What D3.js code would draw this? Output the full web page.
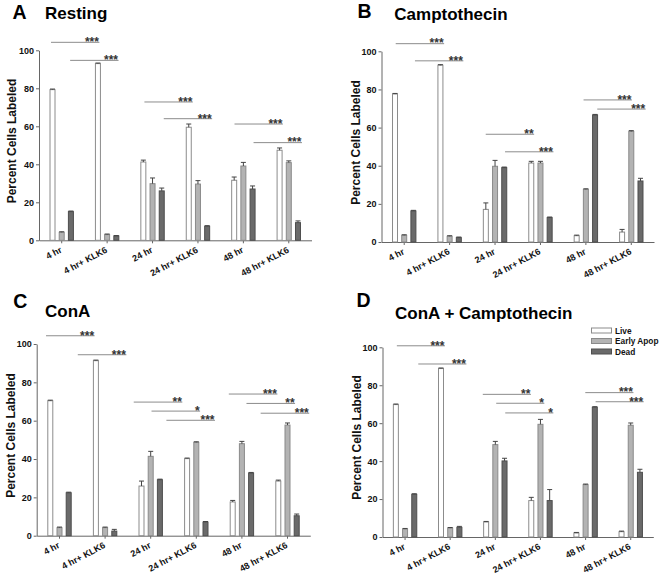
<!DOCTYPE html>
<html>
<head>
<meta charset="utf-8">
<script src="https://cdn.jsdelivr.net/npm/d3@7/dist/d3.min.js"></script>
<style>
  html, body { margin: 0; padding: 0; background: #fff; }
  svg { display: block; }
  text { font-family: "Liberation Sans", Arial, sans-serif; }
</style>
</head>
<body>
<svg id="chart" width="661" height="578"></svg>
<script>
// ---------- data ----------
const categories = ["4 hr", "4 hr+ KLK6", "24 hr", "24 hr+ KLK6", "48 hr", "48 hr+ KLK6"];
const seriesNames = ["Live", "Early Apop", "Dead"];
const yTicks = [0, 20, 40, 60, 80, 100];

const restingLive  = [79.3, 93.0, 41.2, 59.5, 31.6, 47.4];
const restingEarly = [4.2, 3.0, 29.8, 29.6, 39.1, 40.9];
const restingDead  = [15.1, 2.3, 26.0, 7.4, 27.0, 9.3];
const restingErrLive  = [0.3, 0.3, 1.0, 1.7, 1.7, 1.2];
const restingErrEarly = [0.3, 0.3, 3.0, 1.8, 1.9, 0.9];
const restingErrDead  = [0.3, 0.2, 1.5, 0.3, 1.6, 0.9];

const camptoLive  = [77.6, 92.7, 17.1, 41.4, 3.3, 5.2];
const camptoEarly = [3.5, 3.0, 39.7, 41.4, 27.6, 58.0];
const camptoDead  = [16.3, 2.3, 39.0, 12.8, 66.6, 32.0];
const camptoErrLive  = [0.3, 0.3, 3.4, 0.9, 0.3, 1.4];
const camptoErrEarly = [0.3, 0.3, 3.1, 0.9, 0.3, 0.4];
const camptoErrDead  = [0.3, 0.3, 0.3, 0.3, 0.3, 1.4];

const conaLive  = [70.4, 91.3, 25.9, 40.2, 17.6, 28.5];
const conaEarly = [4.2, 4.2, 41.4, 48.7, 48.0, 57.7];
const conaDead  = [22.4, 2.4, 29.2, 7.1, 32.7, 10.4];
const conaErrLive  = [0.3, 0.3, 2.6, 0.3, 0.8, 0.5];
const conaErrEarly = [0.3, 0.3, 2.6, 0.3, 1.2, 1.1];
const conaErrDead  = [0.3, 0.9, 0.3, 0.3, 0.3, 0.9];

const conaCamptoLive  = [69.8, 88.8, 7.9, 19.2, 2.1, 2.8];
const conaCamptoEarly = [4.2, 4.7, 48.7, 59.4, 27.6, 58.9];
const conaCamptoDead  = [22.5, 5.1, 40.1, 19.2, 68.4, 34.1];
const conaCamptoErrLive  = [0.3, 0.3, 0.3, 1.7, 0.3, 0.3];
const conaCamptoErrEarly = [0.3, 0.3, 1.7, 2.6, 0.3, 1.2];
const conaCamptoErrDead  = [0.3, 0.5, 1.4, 5.8, 0.3, 1.6];

// significance brackets: [fromGroup, toGroup, series position, level (%), label]
const restingSig = [[0,1,0,104.2,"***"],[0,1,2.08,94.7,"***"],[2,3,0.28,72.8,"***"],[2,3,2.38,64,"***"],[4,5,0.2,61.2,"***"],[4,5,2.27,51.4,"***"]];
const camptoSig = [[0,1,0.24,104,"***"],[0,1,2.33,95,"***"],[2,3,0.15,56.5,"**"],[2,3,2.25,47.3,"***"],[4,5,0.91,74.5,"***"],[4,5,2.4,69.7,"***"]];
const conaSig = [[0,1,-0.3,104.3,"***"],[0,1,3.15,94.4,"***"],[2,3,-0.68,69.7,"**"],[2,3,1.25,65,"*"],[2,3,2.87,60.2,"***"],[4,5,-0.26,73.9,"***"],[4,5,1.66,69,"**"],[4,5,3.2,63.9,"***"]];
const conaCamptoSig = [[0,1,0.27,100.8,"***"],[0,1,2.6,91.2,"***"],[2,3,-0.2,75.2,"**"],[2,3,1.26,70.5,"*"],[2,3,2.24,65.4,"*"],[4,5,1.13,76.1,"***"],[4,5,2.25,71.3,"***"]];

const panelLetters = ["A", "B", "C", "D"];
const panelTitles = ["Resting", "Camptothecin", "ConA", "ConA + Camptothecin"];

// ---------- styles / layout ----------
const fills = ["#ffffff", "#b3b3b3", "#6a6a6a"];
const strokes = ["#8c8c8c", "#8a8a8a", "#4e4e4e"];
const FONT = "'Liberation Sans', Arial, sans-serif";

const panels = [
  { letter: panelLetters[0], title: panelTitles[0], values: [restingLive, restingEarly, restingDead], errs: [restingErrLive, restingErrEarly, restingErrDead], sig: restingSig,
    x0: 39, x1: 311.5, y0: 240.3, y100: 50.3, letterPos: [12.5, 19.3], titlePos: [45, 19.3], ylab: [16, 141] },
  { letter: panelLetters[1], title: panelTitles[1], values: [camptoLive, camptoEarly, camptoDead], errs: [camptoErrLive, camptoErrEarly, camptoErrDead], sig: camptoSig,
    x0: 381.5, x1: 654, y0: 242, y100: 51.3, letterPos: [357.5, 17.8], titlePos: [394.3, 20], ylab: [360, 142.5] },
  { letter: panelLetters[2], title: panelTitles[2], values: [conaLive, conaEarly, conaDead], errs: [conaErrLive, conaErrEarly, conaErrDead], sig: conaSig,
    x0: 36.7, x1: 310.3, y0: 535.7, y100: 344, letterPos: [13.2, 308], titlePos: [45, 317.3], ylab: [15, 435.5] },
  { letter: panelLetters[3], title: panelTitles[3], values: [conaCamptoLive, conaCamptoEarly, conaCamptoDead], errs: [conaCamptoErrLive, conaCamptoErrEarly, conaCamptoErrDead], sig: conaCamptoSig,
    x0: 382.5, x1: 653.3, y0: 537, y100: 347.3, letterPos: [356.5, 307.3], titlePos: [395, 318.7], ylab: [360.5, 437.5], legend: true }
];

const svg = d3.select("#chart");

panels.forEach(p => {
  const g = svg.append("g");
  const x = d3.scaleBand().domain(categories).range([p.x0, p.x1]).paddingInner(0).paddingOuter(0);
  const xs = d3.scaleBand().domain([0, 1, 2]).range([-12.2, 12.2]).paddingInner(0.348).paddingOuter(0);
  const y = d3.scaleLinear().domain([0, 100]).range([p.y0, p.y100]);
  const gc = c => x(c) + x.bandwidth() / 2;
  const subStep = xs.step();
  const posX = (gi, s) => gc(categories[gi]) + xs(0) + xs.bandwidth() / 2 + s * subStep;

  // y axis
  const yAxis = d3.axisLeft(y).tickValues(yTicks).tickSize(3).tickPadding(2).tickSizeOuter(0);
  const ya = g.append("g").attr("transform", `translate(${p.x0},0)`).call(yAxis);
  ya.select(".domain").attr("stroke", "#666");
  ya.selectAll(".tick line").attr("stroke", "#666");
  ya.selectAll(".tick text").attr("font-family", FONT).attr("font-size", 9).attr("font-weight", "bold").attr("fill", "#111");

  // x axis
  const xAxis = d3.axisBottom(x).tickSize(3).tickSizeOuter(0).tickFormat("");
  const xa = g.append("g").attr("transform", `translate(0,${p.y0})`).call(xAxis);
  xa.select(".domain").attr("stroke", "#666");
  xa.selectAll(".tick line").attr("stroke", "#666");

  // x labels rotated
  g.selectAll("text.xlab").data(categories).enter().append("text")
    .attr("class", "xlab")
    .attr("transform", d => `translate(${gc(d) + 0.8},${p.y0 + 11.5}) rotate(-28)`)
    .attr("text-anchor", "end")
    .attr("font-family", FONT).attr("font-size", 9).attr("font-weight", "bold").attr("fill", "#111")
    .text(d => d);

  // bars
  p.values.forEach((vals, si) => {
    g.selectAll(null).data(vals).enter().append("rect")
      .attr("x", (d, i) => gc(categories[i]) + xs(si) + 0.5)
      .attr("width", xs.bandwidth() - 1)
      .attr("y", d => y(d))
      .attr("height", d => p.y0 - y(d))
      .attr("fill", fills[si])
      .attr("stroke", strokes[si])
      .attr("stroke-width", 1);
    // error bars
    const errs = p.errs[si];
    vals.forEach((v, i) => {
      const e = errs[i];
      if (!e) return;
      const cx = gc(categories[i]) + xs(si) + xs.bandwidth() / 2;
      const yt = y(v + e);
      g.append("line").attr("x1", cx).attr("x2", cx).attr("y1", y(v)).attr("y2", yt)
        .attr("stroke", "#444").attr("stroke-width", 1);
      g.append("line").attr("x1", cx - 2.5).attr("x2", cx + 2.5).attr("y1", yt).attr("y2", yt)
        .attr("stroke", "#444").attr("stroke-width", 1);
    });
  });

  // significance brackets
  p.sig.forEach(s => {
    const xa1 = posX(s[0], s[2]) - 1.5;
    const xa2 = posX(s[1], s[2]) + 1.5;
    const yl = y(s[3]);
    g.append("line").attr("x1", xa1).attr("x2", xa2).attr("y1", yl).attr("y2", yl)
      .attr("stroke", "#8c8c8c").attr("stroke-width", 1);
    g.append("text").attr("x", xa2 - 0.5).attr("y", yl + 3.8)
      .attr("text-anchor", "end").attr("font-family", FONT).attr("font-size", 12)
      .attr("font-weight", "bold").attr("fill", "#333").text(s[4]);
  });

  // y label
  g.append("text")
    .attr("transform", `translate(${p.ylab[0]},${p.ylab[1]}) rotate(-90)`)
    .attr("text-anchor", "middle")
    .attr("font-family", FONT).attr("font-size", 12).attr("font-weight", "bold").attr("fill", "#111")
    .text("Percent Cells Labeled");

  // panel letter and title
  g.append("text").attr("x", p.letterPos[0]).attr("y", p.letterPos[1])
    .attr("font-family", FONT).attr("font-size", 19.5).attr("font-weight", "bold").attr("fill", "#000")
    .text(p.letter);
  g.append("text").attr("x", p.titlePos[0]).attr("y", p.titlePos[1])
    .attr("font-family", FONT).attr("font-size", 17).attr("font-weight", "bold").attr("fill", "#000")
    .text(p.title);

  if (p.legend) {
    const lg = g.append("g").attr("transform", "translate(591,330.5)");
    seriesNames.forEach((name, i) => {
      lg.append("rect").attr("x", 0.5).attr("y", i * 10.5 - 2.5).attr("width", 20).attr("height", 5)
        .attr("fill", fills[i]).attr("stroke", strokes[i]).attr("stroke-width", 1);
      lg.append("text").attr("x", 24).attr("y", i * 10.5 + 3)
        .attr("font-family", FONT).attr("font-size", 8.3).attr("font-weight", "bold").attr("fill", "#111")
        .text(name);
    });
  }
});
</script>
</body>
</html>
